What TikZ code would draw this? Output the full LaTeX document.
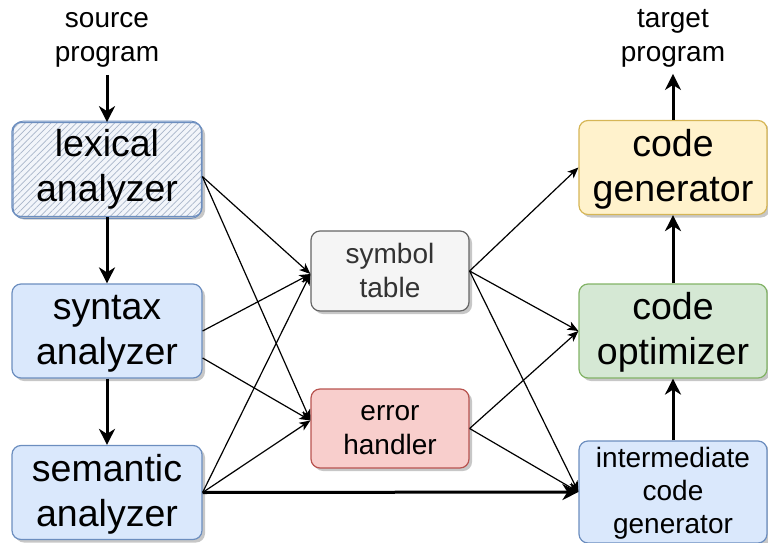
\documentclass[tikz,border=0pt]{standalone}
\usepackage{fontspec}
\setmainfont{Liberation Sans}
\usetikzlibrary{arrows.meta,shadows,patterns.meta,calc}
\definecolor{bfill}{HTML}{DAE8FC}
\definecolor{bstroke}{HTML}{6C8EBF}
\definecolor{gfill}{HTML}{F5F5F5}
\definecolor{gstroke}{HTML}{666666}
\definecolor{gtext}{HTML}{333333}
\definecolor{rfill}{HTML}{F8CECC}
\definecolor{rstroke}{HTML}{B85450}
\definecolor{yfill}{HTML}{FFF2CC}
\definecolor{ystroke}{HTML}{D6B656}
\definecolor{grfill}{HTML}{D5E8D4}
\definecolor{grstroke}{HTML}{82B366}
\definecolor{lexfill}{HTML}{F2F5FA}
\definecolor{hatch}{HTML}{A9B6CA}
\newcommand{\firstbig}{\rule{0pt}{35.5pt}}
\newcommand{\firstsmall}{\rule{0pt}{28.8pt}}
\newcommand{\firsticg}{\rule{0pt}{26.1pt}}
\newcommand{\firstfree}{\rule{0pt}{25.3pt}}
\begin{document}
\begin{tikzpicture}[x=1pt,y=-1pt,
  box/.style={rounded corners=9pt, line width=1.2pt, align=center, inner sep=0pt},
  big/.style={font=\fontsize{37.5}{45}\selectfont},
  small/.style={font=\fontsize{28}{34}\selectfont},
  shad/.style={drop shadow={shadow xshift=3pt,shadow yshift=-3pt,opacity=0.22,fill=black}},
  wide/.style={minimum width=190pt, minimum height=94pt},
  thinarr/.style={-{Stealth[length=11pt,width=9pt,inset=3pt]}, line width=1.2pt},
  thickarr/.style={-{Stealth[length=16pt,width=16pt,inset=5pt]}, line width=3pt}
]
\useasboundingbox (0,0) rectangle (768,543);

% left column
\node[box,big,wide,shad,preaction={fill=lexfill},
      pattern={Lines[angle=45,distance=4.5pt,line width=0.7pt]},pattern color=hatch,
      draw=bstroke] (lex) at (107,169.5) {\strut lexical\\\strut analyzer};
\draw[bstroke,line width=0.9pt,rounded corners=10pt]
  ([xshift=1.5pt,yshift=1pt]lex.north west) rectangle ([xshift=-1pt,yshift=-1.5pt]lex.south east);
\node[box,big,wide,shad,fill=bfill,draw=bstroke] (syn) at (107,331) {\firstbig\strut syntax\\\strut analyzer};
\node[box,big,wide,shad,fill=bfill,draw=bstroke] (sem) at (107,492.5) {\firstbig\strut semantic\\\strut analyzer};

% middle column
\node[box,small,shad,fill=gfill,draw=gstroke,text=gtext,minimum width=158pt,minimum height=80pt] (sym) at (390,271) {\firstsmall\strut symbol\\\strut table};
\node[box,small,shad,fill=rfill,draw=rstroke,minimum width=158pt,minimum height=79pt] (err) at (390,428.5) {\firstsmall\strut error\\\strut handler};

% right column
\node[box,big,shad,fill=yfill,draw=ystroke,minimum width=188pt,minimum height=93pt] (gen) at (673,167.5) {\firstbig\strut code\\\strut generator};
\node[box,big,shad,fill=grfill,draw=grstroke,minimum width=188pt,minimum height=94pt] (opt) at (673,331) {\firstbig\strut code\\\strut optimizer};
\node[box,shad,fill=bfill,draw=bstroke,minimum width=188pt,minimum height=96pt,
      font=\fontsize{28}{33}\selectfont] (icg) at (673,492) {\firsticg\strut intermediate\\\strut code\\\strut generator};

% free texts
\node[small,align=center,inner sep=0pt] (src) at (107,37) {\firstfree\strut source\\\strut program};
\node[small,align=center,inner sep=0pt] (tgt) at (673,37) {\firstfree\strut target\\\strut program};

% main flow
\draw[thickarr,shorten <=3pt] (src) -- (lex);
\draw[thickarr] (lex) -- (syn);
\draw[thickarr] (syn) -- (sem);
\draw[thickarr] (icg) -- (opt);
\draw[thickarr] (opt) -- (gen);
\draw[thickarr,shorten >=2pt] (gen) -- (tgt);
\draw[thickarr] (sem.east) -- (icg.west);

% to symbol table / error handler
\draw[thinarr] ($(lex.east)+(0,7)$) -- ($(sym.west)+(0,3)$);
\draw[thinarr] ($(lex.east)+(0,7)$) -- ($(err.west)+(0,-8)$);
\draw[thinarr] (syn.east) -- ($(sym.west)+(0,3)$);
\draw[thinarr] ($(syn.east)+(0,27)$) -- ($(err.west)+(0,-8)$);
\draw[thinarr] (sem.east) -- ($(sym.west)+(0,3)$);
\draw[thinarr] (sem.east) -- ($(err.west)+(0,-8)$);

% from symbol table / error handler
\draw[thinarr] (sym.east) -- (gen.west);
\draw[thinarr] (sym.east) -- (opt.west);
\draw[thinarr] (sym.east) -- (icg.west);
\draw[thinarr] (err.east) -- (opt.west);
\draw[thinarr] (err.east) -- (icg.west);
\end{tikzpicture}
\end{document}
